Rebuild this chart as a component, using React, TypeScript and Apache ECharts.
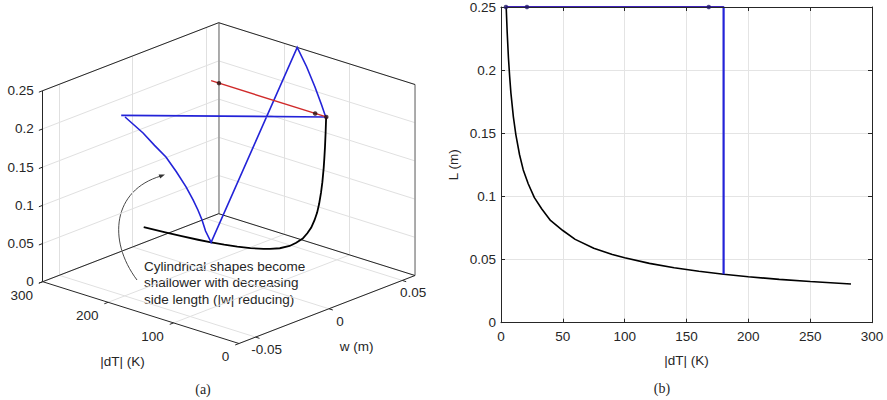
import React, { useEffect, useRef } from "react";
import * as echarts from "echarts";

// Black curve: side length L (m) against |dT| (K), lying in the w = 0 plane
const curveDT = [4.2, 5, 6, 7, 8, 10, 12, 15, 18, 22, 27, 33, 40, 50, 60, 75, 90, 100, 120, 140, 160, 180, 200, 225, 250, 283];
const curveL = [0.25, 0.23, 0.21, 0.195, 0.182, 0.163, 0.149, 0.133, 0.121, 0.11, 0.099, 0.09, 0.081, 0.073, 0.066, 0.059, 0.054, 0.0515, 0.047, 0.0435, 0.0407, 0.0384, 0.0364, 0.0343, 0.0326, 0.0306];
const curveW = 0;

// Blue loop: [|dT|, w, L] triples along the cylindrical shape outline
const loopDT = [180, 4, 7, 34, 79.5, 130, 180, 180, 180, 180, 180, 180, 180, 180, 180, 180, 180, 180];
const loopW = [-0.0613, 0, 0.0007, 0.0102, 0.0259, 0.0428, 0.0587, 0, -0.0038, -0.0062, -0.009, -0.0123, -0.0171, -0.0236, -0.0308, -0.0386, -0.0464, -0.0587];
const loopL = [0.25, 0.25, 0.25, 0.25, 0.25, 0.25, 0.25, 0.0384, 0.056, 0.0722, 0.0874, 0.103, 0.1236, 0.148, 0.1729, 0.194, 0.216, 0.246];

// Red path along the top (L = 0.25, w = 0) with its marker points
const redDT = [180, 4];
const redW = [0, 0];
const redL = [0.25, 0.25];
const dotDT = [168, 21, 4];
const dotW = [0, 0, 0];
const dotL = [0.25, 0.25, 0.25];

// Axis limits and ticks of the 3-D view
const DT_MIN = 0, DT_MAX = 300;
const W_MIN = -0.0613, W_MAX = 0.0587;
const L_MIN = 0, L_MAX = 0.25;
const dtTicks = [0, 100, 200, 300];
const wTicks = [-0.05, 0, 0.05];
const lTicks = [0, 0.05, 0.1, 0.15, 0.2, 0.25];

// Orthographic view of the box: front-bottom corner and the screen vectors of each full axis
const ORIGIN = [239, 343.5];
const DT_VEC = [-196.3, -61.8];
const W_VEC = [176, -68];
const L_VEC = [0, -191];

function proj(dT: number, w: number, L: number): number[] {
  const u = (dT - DT_MIN) / (DT_MAX - DT_MIN);
  const v = (w - W_MIN) / (W_MAX - W_MIN);
  const h = (L - L_MIN) / (L_MAX - L_MIN);
  return [
    ORIGIN[0] + u * DT_VEC[0] + v * W_VEC[0] + h * L_VEC[0],
    ORIGIN[1] + u * DT_VEC[1] + v * W_VEC[1] + h * L_VEC[1],
  ];
}

const seg = (a: number[], b: number[]) => ({ coords: [proj(a[0], a[1], a[2]), proj(b[0], b[1], b[2])] });

const FONT = "'Liberation Sans', Arial, Helvetica, sans-serif";
const FS = 13.5;
const INK = "#262626";
const BLUE = "#2323d8";
const RED = "#d02a2a";

export default function App() {
  const ref = useRef<HTMLDivElement>(null);

  useEffect(() => {
    document.body.style.margin = "0";
    if (!ref.current) return;
    const chart = echarts.init(ref.current, null, { renderer: "svg" });

    // wall and floor grid
    const gridSegs: any[] = [];
    dtTicks.forEach((t) => gridSegs.push(seg([t, W_MIN, L_MIN], [t, W_MAX, L_MIN])));
    wTicks.forEach((w) => gridSegs.push(seg([DT_MIN, w, L_MIN], [DT_MAX, w, L_MIN])));
    wTicks.forEach((w) => gridSegs.push(seg([DT_MAX, w, L_MIN], [DT_MAX, w, L_MAX])));
    lTicks.forEach((l) => gridSegs.push(seg([DT_MAX, W_MIN, l], [DT_MAX, W_MAX, l])));
    dtTicks.forEach((t) => gridSegs.push(seg([t, W_MAX, L_MIN], [t, W_MAX, L_MAX])));
    lTicks.forEach((l) => gridSegs.push(seg([DT_MIN, W_MAX, l], [DT_MAX, W_MAX, l])));

    // box edges
    const boxSegs = [
      seg([DT_MAX, W_MIN, L_MIN], [DT_MIN, W_MIN, L_MIN]),
      seg([DT_MIN, W_MIN, L_MIN], [DT_MIN, W_MAX, L_MIN]),
      seg([DT_MAX, W_MIN, L_MIN], [DT_MAX, W_MAX, L_MIN]),
      seg([DT_MAX, W_MAX, L_MIN], [DT_MIN, W_MAX, L_MIN]),
      seg([DT_MAX, W_MIN, L_MIN], [DT_MAX, W_MIN, L_MAX]),
      seg([DT_MAX, W_MIN, L_MAX], [DT_MAX, W_MAX, L_MAX]),
      seg([DT_MAX, W_MAX, L_MAX], [DT_MIN, W_MAX, L_MAX]),
    ];
    const backVerticals = [
      seg([DT_MAX, W_MAX, L_MIN], [DT_MAX, W_MAX, L_MAX]),
      seg([DT_MIN, W_MAX, L_MIN], [DT_MIN, W_MAX, L_MAX]),
    ];

    // outward tick marks
    const tickSegs: any[] = [];
    lTicks.forEach((l) => tickSegs.push(seg([DT_MAX, W_MIN, l], [DT_MAX, W_MIN - 0.0026, l])));
    dtTicks.forEach((t) => tickSegs.push(seg([t, W_MIN, L_MIN], [t, W_MIN - 0.0026, L_MIN])));
    wTicks.forEach((w) => tickSegs.push(seg([DT_MIN, w, L_MIN], [DT_MIN - 6, w, L_MIN])));

    const curve3d = curveDT.map((d, i) => proj(d, curveW, curveL[i]));
    const loop3d = loopDT.map((d, i) => proj(d, loopW[i], loopL[i]));
    const red3d = redDT.map((d, i) => proj(d, redW[i], redL[i]));
    const dots3d = dotDT.map((d, i) => proj(d, dotW[i], dotL[i]));

    const txt = (x: number, y: number, text: string, align: string, extra: any = {}) => ({
      type: "text",
      x,
      y,
      silent: true,
      style: {
        text,
        fill: INK,
        font: `${FS}px ${FONT}`,
        textAlign: align,
        textVerticalAlign: "middle",
        ...extra,
      },
    });

    const labels: any[] = [];
    lTicks.forEach((l) => {
      const p = proj(DT_MAX, W_MIN, l);
      labels.push(txt(p[0] - 9, p[1], String(l), "right"));
    });
    dtTicks.forEach((t) => {
      const p = proj(t, W_MIN, L_MIN);
      labels.push(txt(p[0] - 9.7, p[1] + 13.3, String(t), "right"));
    });
    wTicks.forEach((w) => {
      const p = proj(DT_MIN, w, L_MIN);
      labels.push(txt(p[0] + 11, p[1] + 12.4, String(w), "center"));
    });
    const pdT = proj((DT_MIN + DT_MAX) / 2, W_MIN, L_MIN);
    labels.push(txt(pdT[0] - 18.4, pdT[1] + 49, "|dT| (K)", "center"));
    const pw = proj(DT_MIN, (W_MIN + W_MAX) / 2, L_MIN);
    labels.push(txt(pw[0] + 29.7, pw[1] + 37.2, "w (m)", "center"));

    // annotation
    const note = ["Cylindrical shapes become", "shallower with decreasing", "side length (|w| reducing)"];
    note.forEach((line, i) => labels.push(txt(144, 266.6 + i * 16.3, line, "left")));
    labels.push({
      type: "bezierCurve",
      silent: true,
      shape: { x1: 137, y1: 280, cpx1: 107, cpy1: 240, cpx2: 113, cpy2: 190, x2: 161, y2: 176 },
      style: { stroke: "#333", lineWidth: 0.9, fill: "none" },
    });
    labels.push({
      type: "polygon",
      silent: true,
      shape: { points: [[165, 174.6], [158.6, 174.6], [160.2, 178.6]] },
      style: { fill: "#333" },
    });

    // panel captions
    labels.push(txt(203, 389, "(a)", "center", { font: `14px 'Liberation Serif', 'Times New Roman', serif` }));
    labels.push(txt(662, 388, "(b)", "center", { font: `14px 'Liberation Serif', 'Times New Roman', serif` }));

    const axisBase = {
      type: "value",
      gridIndex: 1,
      axisLine: { show: true, onZero: false, lineStyle: { color: INK, width: 1 } },
      axisTick: { show: true, inside: true, length: 4, lineStyle: { color: INK } },
      splitLine: { show: false },
      axisLabel: { show: false },
    };

    chart.setOption({
      animation: false,
      grid: [
        { left: 0, top: 0, width: 440, height: 400 },
        { left: 501, right: 15, top: 4, bottom: 77.3 },
      ],
      xAxis: [
        { type: "value", gridIndex: 0, min: 0, max: 440, show: false },
        {
          ...axisBase,
          position: "bottom",
          min: 0,
          max: 300,
          interval: 50,
          splitLine: { show: true, lineStyle: { color: "#e4e4e4", width: 1 } },
          axisLabel: { show: true, color: INK, fontSize: FS, fontFamily: FONT, margin: 7 },
          name: "|dT| (K)",
          nameLocation: "middle",
          nameGap: 31,
          nameTextStyle: { color: INK, fontSize: FS, fontFamily: FONT },
        },
        { ...axisBase, position: "top", min: 0, max: 300, interval: 50, z: 20 },
      ],
      yAxis: [
        { type: "value", gridIndex: 0, min: 0, max: 400, inverse: true, show: false },
        {
          ...axisBase,
          position: "left",
          min: 0,
          max: 0.25,
          interval: 0.05,
          splitLine: { show: true, lineStyle: { color: "#e4e4e4", width: 1 } },
          axisLabel: { show: true, color: INK, fontSize: FS, fontFamily: FONT, margin: 5 },
          name: "L (m)",
          nameLocation: "middle",
          nameGap: 41,
          nameRotate: 90,
          nameTextStyle: { color: INK, fontSize: FS, fontFamily: FONT },
        },
        { ...axisBase, position: "right", min: 0, max: 0.25, interval: 0.05 },
      ],
      series: [
        {
          type: "lines", coordinateSystem: "cartesian2d", xAxisIndex: 0, yAxisIndex: 0, silent: true, z: 1,
          data: gridSegs, lineStyle: { color: "#e0e0e0", width: 1, opacity: 1 },
        },
        {
          type: "lines", coordinateSystem: "cartesian2d", xAxisIndex: 0, yAxisIndex: 0, silent: true, z: 2,
          data: backVerticals, lineStyle: { color: "#9a9a9a", width: 1.6, opacity: 1 },
        },
        {
          type: "lines", coordinateSystem: "cartesian2d", xAxisIndex: 0, yAxisIndex: 0, silent: true, z: 2,
          data: [...boxSegs, ...tickSegs], lineStyle: { color: INK, width: 1, opacity: 1 },
        },
        {
          type: "lines", coordinateSystem: "cartesian2d", xAxisIndex: 0, yAxisIndex: 0, silent: true, z: 3,
          polyline: true, data: [{ coords: curve3d }], lineStyle: { color: "#000", width: 1.8, opacity: 1 },
        },
        {
          type: "lines", coordinateSystem: "cartesian2d", xAxisIndex: 0, yAxisIndex: 0, silent: true, z: 4,
          polyline: true, data: [{ coords: loop3d }], lineStyle: { color: BLUE, width: 1.6, opacity: 1 },
        },
        {
          type: "lines", coordinateSystem: "cartesian2d", xAxisIndex: 0, yAxisIndex: 0, silent: true, z: 5,
          polyline: true, data: [{ coords: red3d }], lineStyle: { color: RED, width: 1.4, opacity: 1 },
        },
        {
          type: "scatter", xAxisIndex: 0, yAxisIndex: 0, silent: true, z: 6,
          data: dots3d, symbolSize: 4.5, itemStyle: { color: "#2a1010" },
        },
        // panel (b)
        {
          type: "line", xAxisIndex: 1, yAxisIndex: 1, silent: true, showSymbol: false, z: 3, clip: false,
          data: curveDT.map((d, i) => [d, curveL[i]]), lineStyle: { color: "#000", width: 1.6 },
        },
        {
          type: "line", xAxisIndex: 1, yAxisIndex: 1, silent: true, showSymbol: false, z: 4, clip: false,
          data: loopDT.map((d, i) => [d, loopL[i]]), lineStyle: { color: BLUE, width: 2.2 },
        },
        {
          type: "line", xAxisIndex: 1, yAxisIndex: 1, silent: true, showSymbol: false, z: 5, clip: false,
          data: redDT.map((d, i) => [d, redL[i]]), lineStyle: { color: RED, width: 1.2, opacity: 0.35 },
        },
        {
          type: "scatter", xAxisIndex: 1, yAxisIndex: 1, silent: true, z: 30, clip: false,
          data: dotDT.map((d, i) => [d, dotL[i]]), symbolSize: 4.5, itemStyle: { color: "#22186a" },
        },
      ],
      graphic: labels,
    });

    return () => chart.dispose();
  }, []);

  return <div ref={ref} style={{ width: 887, height: 400 }} />;
}
